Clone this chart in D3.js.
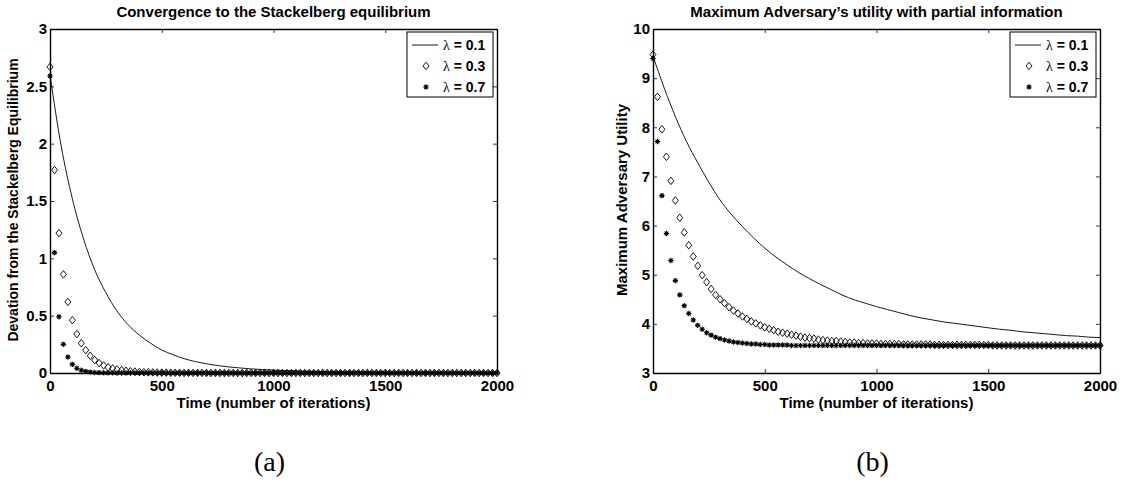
<!DOCTYPE html>
<html>
<head>
<meta charset="utf-8">
<script src="https://cdn.jsdelivr.net/npm/d3@7"></script>
<style>
  body { margin: 0; background: #fff; }
  text { font-family: "Liberation Sans", Arial, sans-serif; font-weight: bold; fill: #000; }
</style>
</head>
<body>
<div id="chart"></div>
<script>
// iteration grids: markers every 20 iterations, curves sampled every 50
const markerIters = d3.range(0, 2001, 20)
const lineIters = d3.range(0, 2001, 50)

const legendLabels = ["0.1", "0.3", "0.7"]

// (a) deviation from the Stackelberg equilibrium
const devLambda01 = [2.60, 1.98, 1.52, 1.17, 0.90, 0.70, 0.54, 0.42, 0.33, 0.26,
  0.20, 0.16, 0.125, 0.10, 0.08, 0.065, 0.053, 0.044, 0.036, 0.030,
  0.025, 0.021, 0.018, 0.015, 0.013, 0.011, 0.009, 0.008, 0.007, 0.006,
  0.005, 0.004, 0.004, 0.003, 0.003, 0.002, 0.002, 0.002, 0.001, 0.001, 0.001]
const devLambda03 = [2.67, 1.77, 1.22, 0.86, 0.62, 0.46, 0.34, 0.26, 0.20, 0.15,
  0.113, 0.086, 0.066, 0.050, 0.040, 0.031, 0.024, 0.019, 0.015, 0.012,
  0.009, 0.007, 0.006, 0.005, 0.004, 0.003, 0.003, 0.002, 0.002, 0.002,
  0.001, 0.001, 0.001, 0.001, 0.001, 0, 0, 0, 0, 0,
  0, 0, 0, 0, 0, 0, 0, 0, 0, 0,
  0, 0, 0, 0, 0, 0, 0, 0, 0, 0,
  0, 0, 0, 0, 0, 0, 0, 0, 0, 0,
  0, 0, 0, 0, 0, 0, 0, 0, 0, 0,
  0, 0, 0, 0, 0, 0, 0, 0, 0, 0,
  0, 0, 0, 0, 0, 0, 0, 0, 0, 0, 0]
const devLambda07 = [2.59, 1.05, 0.49, 0.25, 0.14, 0.075, 0.042, 0.024, 0.014, 0.008,
  0.005, 0.003, 0.002, 0.001, 0.001, 0, 0, 0, 0, 0,
  0, 0, 0, 0, 0, 0, 0, 0, 0, 0,
  0, 0, 0, 0, 0, 0, 0, 0, 0, 0,
  0, 0, 0, 0, 0, 0, 0, 0, 0, 0,
  0, 0, 0, 0, 0, 0, 0, 0, 0, 0,
  0, 0, 0, 0, 0, 0, 0, 0, 0, 0,
  0, 0, 0, 0, 0, 0, 0, 0, 0, 0,
  0, 0, 0, 0, 0, 0, 0, 0, 0, 0,
  0, 0, 0, 0, 0, 0, 0, 0, 0, 0, 0]

// (b) maximum adversary utility
const utilLambda01 = [9.45, 8.80, 8.22, 7.71, 7.28, 6.88, 6.52, 6.23, 5.98, 5.75,
  5.54, 5.36, 5.20, 5.05, 4.92, 4.80, 4.69, 4.58, 4.49, 4.42,
  4.35, 4.29, 4.23, 4.17, 4.12, 4.08, 4.04, 4.01, 3.98, 3.95,
  3.92, 3.89, 3.87, 3.84, 3.82, 3.80, 3.78, 3.76, 3.75, 3.73, 3.72]
const utilLambda03 = [9.48, 8.62, 7.96, 7.40, 6.91, 6.51, 6.16, 5.86, 5.60, 5.37,
  5.18, 4.99, 4.85, 4.71, 4.59, 4.50, 4.42, 4.34, 4.27, 4.21,
  4.15, 4.10, 4.05, 4.01, 3.97, 3.93, 3.90, 3.87, 3.84, 3.82,
  3.80, 3.78, 3.76, 3.74, 3.72, 3.71, 3.70, 3.68, 3.67, 3.66,
  3.65, 3.65, 3.64, 3.63, 3.62, 3.62, 3.61, 3.61, 3.60, 3.60,
  3.60, 3.59, 3.59, 3.59, 3.59, 3.59, 3.58, 3.58, 3.58, 3.58,
  3.58, 3.58, 3.58, 3.57, 3.57, 3.57, 3.57, 3.57, 3.57, 3.57,
  3.57, 3.57, 3.57, 3.57, 3.57, 3.57, 3.56, 3.56, 3.56, 3.56,
  3.56, 3.56, 3.56, 3.56, 3.56, 3.56, 3.56, 3.56, 3.56, 3.56,
  3.56, 3.56, 3.56, 3.56, 3.56, 3.56, 3.56, 3.56, 3.56, 3.56, 3.56]
const utilLambda07 = [9.40, 7.71, 6.61, 5.84, 5.29, 4.88, 4.59, 4.37, 4.21, 4.08,
  3.97, 3.89, 3.82, 3.77, 3.73, 3.70, 3.67, 3.65, 3.63, 3.62,
  3.61, 3.60, 3.59, 3.59, 3.58, 3.58, 3.57, 3.57, 3.57, 3.57,
  3.57, 3.56, 3.56, 3.56, 3.56, 3.56, 3.56, 3.56, 3.56, 3.56,
  3.56, 3.56, 3.56, 3.56, 3.56, 3.56, 3.56, 3.56, 3.56, 3.56,
  3.56, 3.56, 3.56, 3.56, 3.56, 3.56, 3.56, 3.56, 3.56, 3.56,
  3.56, 3.56, 3.56, 3.56, 3.56, 3.56, 3.56, 3.56, 3.56, 3.56,
  3.56, 3.56, 3.56, 3.56, 3.56, 3.56, 3.56, 3.56, 3.56, 3.56,
  3.56, 3.56, 3.56, 3.56, 3.56, 3.56, 3.56, 3.56, 3.56, 3.56,
  3.56, 3.56, 3.56, 3.56, 3.56, 3.56, 3.56, 3.56, 3.56, 3.56, 3.56]

const xTicks = [0, 500, 1000, 1500, 2000]
const devTicks = [0, 0.5, 1, 1.5, 2, 2.5, 3]
const utilTicks = [3, 4, 5, 6, 7, 8, 9, 10]

const svg = d3.select("#chart").append("svg")
  .attr("width", 1123)
  .attr("height", 491)
  .style("display", "block")

svg.append("rect").attr("width", 1123).attr("height", 491).attr("fill", "#fff")

const diamond = "M0,-3.8L3,0L0,3.8L-3,0Z"
const star = "M-2.7,0H2.7M0,-2.7V2.7M-1.9,-1.9L1.9,1.9M-1.9,1.9L1.9,-1.9"

function drawPanel(p) {
  const x = d3.scaleLinear().domain([0, 2000]).range([p.left, p.right])
  const y = d3.scaleLinear().domain(p.yDomain).range([373, 29])

  const g = svg.append("g")

  // series
  const line = d3.line()
    .x((d, i) => x(lineIters[i]))
    .y(d => y(d))
    .curve(d3.curveMonotoneX)

  g.append("path")
    .datum(p.lineData)
    .attr("d", line)
    .attr("fill", "none")
    .attr("stroke", "#000")
    .attr("stroke-width", 0.9)

  g.selectAll(".dia")
    .data(p.diamondData)
    .enter()
    .append("path")
    .attr("class", "dia")
    .attr("transform", (d, i) => "translate(" + x(markerIters[i]) + "," + y(d) + ")")
    .attr("d", diamond)
    .attr("fill", "none")
    .attr("stroke", "#000")
    .attr("stroke-width", 0.9)

  g.selectAll(".star")
    .data(p.starData)
    .enter()
    .append("path")
    .attr("class", "star")
    .attr("transform", (d, i) => "translate(" + x(markerIters[i]) + "," + y(d) + ")")
    .attr("d", star)
    .attr("fill", "none")
    .attr("stroke", "#000")
    .attr("stroke-width", 1.1)

  // axes, ticks pointing inward like matlab
  const axes = [
    { a: d3.axisBottom(x).tickValues(xTicks), t: "translate(0,373)", lab: true },
    { a: d3.axisTop(x).tickValues(xTicks), t: "translate(0,29)", lab: false },
    { a: d3.axisLeft(y).tickValues(p.yTicks), t: "translate(" + p.left + ",0)", lab: true },
    { a: d3.axisRight(y).tickValues(p.yTicks), t: "translate(" + p.right + ",0)", lab: false }
  ]
  axes.forEach((ax, k) => {
    ax.a.tickSizeInner(-4).tickSizeOuter(0)
      .tickPadding(k == 0 ? 7 : 3)
      .tickFormat(ax.lab ? d3.format("") : "")
    const ga = g.append("g").attr("transform", ax.t).call(ax.a)
    ga.select(".domain").attr("stroke", "#000").attr("stroke-width", 1.4)
    ga.selectAll(".tick line").attr("stroke", "#000").attr("stroke-width", 0.8)
    ga.selectAll("text")
      .style("font-family", "'Liberation Sans', Arial, sans-serif")
      .style("font-weight", "bold")
      .style("font-size", "15px")
      .attr("fill", "#000")
  })

  // title
  g.append("text")
    .attr("x", (p.left + p.right) / 2)
    .attr("y", 17)
    .attr("text-anchor", "middle")
    .attr("font-size", "15px")
    .text(p.title)

  // x label
  g.append("text")
    .attr("x", (p.left + p.right) / 2)
    .attr("y", 408)
    .attr("text-anchor", "middle")
    .attr("font-size", "15px")
    .text("Time (number of iterations)")

  // y label
  g.append("text")
    .attr("transform", "translate(" + p.yLabelX + ",200) rotate(-90)")
    .attr("text-anchor", "middle")
    .attr("font-size", p.yLabelSize)
    .text(p.yLabel)

  // legend
  const lx = p.right - 90
  const leg = g.append("g")
  leg.append("rect")
    .attr("x", lx).attr("y", 32)
    .attr("width", 86).attr("height", 65)
    .attr("fill", "#fff")
    .attr("stroke", "#000")
    .attr("stroke-width", 1)

  const rows = [45, 66, 87]
  leg.append("line")
    .attr("x1", lx + 5).attr("x2", lx + 31)
    .attr("y1", rows[0]).attr("y2", rows[0])
    .attr("stroke", "#000").attr("stroke-width", 0.9)
  leg.append("path")
    .attr("transform", "translate(" + (lx + 19) + "," + rows[1] + ")")
    .attr("d", diamond).attr("fill", "none").attr("stroke", "#000").attr("stroke-width", 0.9)
  leg.append("path")
    .attr("transform", "translate(" + (lx + 19) + "," + rows[2] + ")")
    .attr("d", star).attr("fill", "none").attr("stroke", "#000").attr("stroke-width", 1.1)

  legendLabels.forEach((lab, i) => {
    const t = leg.append("text")
      .attr("x", lx + 36)
      .attr("y", rows[i] + 5)
      .attr("font-size", "14px")
    t.append("tspan")
      .style("font-family", "'Liberation Serif', 'DejaVu Serif', serif")
      .style("font-weight", "normal")
      .text("λ")
    t.append("tspan").text(" = " + lab)
  })

  // caption under the panel
  svg.append("text")
    .attr("x", (p.left + p.right) / 2 - 4)
    .attr("y", 471)
    .attr("text-anchor", "middle")
    .style("font-family", "'Liberation Serif', 'DejaVu Serif', serif")
    .style("font-weight", "normal")
    .attr("font-size", "28px")
    .text(p.caption)
}

drawPanel({
  left: 50, right: 497,
  yDomain: [0, 3], yTicks: devTicks,
  lineData: devLambda01, diamondData: devLambda03, starData: devLambda07,
  title: "Convergence to the Stackelberg equilibrium",
  yLabel: "Devation from the Stackelberg Equilibrium",
  yLabelX: 18, yLabelSize: "14px",
  caption: "(a)"
})

drawPanel({
  left: 653, right: 1100,
  yDomain: [3, 10], yTicks: utilTicks,
  lineData: utilLambda01, diamondData: utilLambda03, starData: utilLambda07,
  title: "Maximum Adversary\u2019s utility with partial information",
  yLabel: "Maximum Adversary Utility",
  yLabelX: 627, yLabelSize: "15px",
  caption: "(b)"
})
</script>
</body>
</html>
